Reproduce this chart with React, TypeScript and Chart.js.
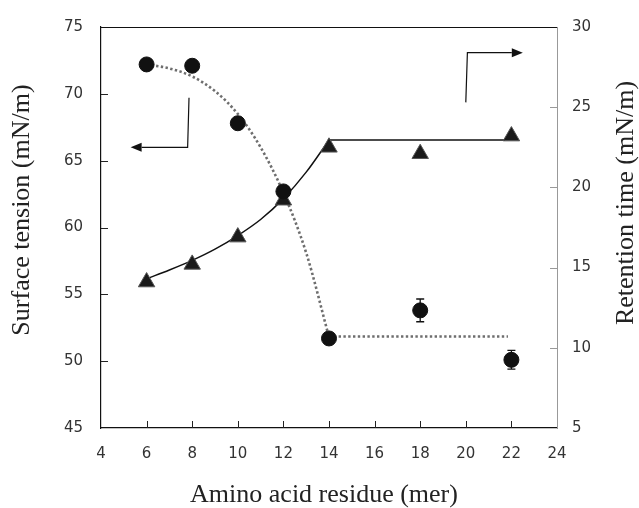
import React, { useEffect, useRef } from 'react';
import { Chart, registerables } from 'chart.js';
Chart.register(...registerables);

// Measured data
const residues = [6, 8, 10, 12, 14, 18, 22];
const surfaceTension = [72.2, 72.1, 67.8, 62.7, 51.7, 53.8, 50.1];
const surfaceTensionErr = [0, 0, 0, 0, 0, 0.85, 0.7];
const retentionTime = [14.1, 15.2, 16.9, 19.2, 22.5, 22.1, 23.2];

// Fitted guide curves
const stFitX = [6, 7, 8, 9, 10, 11, 12, 13, 14];
const stFitY = [72.2, 71.9, 71.3, 70.2, 68.5, 66.0, 62.6, 58.1, 51.8];
const stPlateauX = [14, 21.85];
const stPlateauY = [51.85, 51.85];
const rtFitX = [6, 7, 8, 9, 10, 11, 12, 13, 14];
const rtFitY = [14.3, 14.85, 15.45, 16.15, 17.0, 18.0, 19.3, 20.95, 22.95];
const rtPlateauX = [14, 21.72];
const rtPlateauY = [22.95, 22.95];

// Axis indicator arrows (data coordinates)
const leftArrowX = [7.86, 7.8, 5.3];
const leftArrowY = [69.7, 66.0, 66.0];
const rightArrowX = [20.0, 20.07, 22.5];
const rightArrowY = [25.3, 28.4, 28.4];

const xTitle = 'Amino acid residue (mer)';
const yLeftTitle = 'Surface tension (mN/m)';
const yRightTitle = 'Retention time (mN/m)';

const pts = (xs: number[], ys: number[]) => xs.map((x, i) => ({ x, y: ys[i] }));

const TITLE_FONT = '26px "Liberation Serif", "Times New Roman", serif';

const decorPlugin = {
  id: 'decor',
  afterDatasetsDraw(chart: any) {
    const ctx = chart.ctx;
    const { left, right, top, bottom } = chart.chartArea;
    const xs = chart.scales.x;
    const yl = chart.scales.y;
    const yr = chart.scales.y2;
    ctx.save();
    // top border
    ctx.strokeStyle = '#111';
    ctx.lineWidth = 1.2;
    ctx.beginPath();
    ctx.moveTo(left, top + 0.5);
    ctx.lineTo(right, top + 0.5);
    ctx.stroke();
    // inside ticks
    const tl = 7;
    ctx.lineWidth = 1;
    ctx.strokeStyle = '#222';
    ctx.beginPath();
    xs.ticks.forEach((t: any) => {
      if (t.value <= xs.min || t.value >= xs.max) return;
      const px = Math.round(xs.getPixelForValue(t.value)) + 0.5;
      ctx.moveTo(px, bottom);
      ctx.lineTo(px, bottom - tl);
    });
    yl.ticks.forEach((t: any) => {
      if (t.value <= yl.min || t.value >= yl.max) return;
      const py = Math.round(yl.getPixelForValue(t.value)) + 0.5;
      ctx.moveTo(left, py);
      ctx.lineTo(left + tl, py);
    });
    ctx.stroke();
    ctx.strokeStyle = '#999';
    ctx.beginPath();
    yr.ticks.forEach((t: any) => {
      if (t.value <= yr.min || t.value >= yr.max) return;
      const py = Math.round(yr.getPixelForValue(t.value)) + 0.5;
      ctx.moveTo(right, py);
      ctx.lineTo(right - tl, py);
    });
    ctx.stroke();

    // error bars
    ctx.strokeStyle = '#111';
    ctx.lineWidth = 1.3;
    residues.forEach((r, i) => {
      const e = surfaceTensionErr[i];
      if (!e) return;
      const px = xs.getPixelForValue(r);
      const y1 = yl.getPixelForValue(surfaceTension[i] + e);
      const y2 = yl.getPixelForValue(surfaceTension[i] - e);
      ctx.beginPath();
      ctx.moveTo(px, y1);
      ctx.lineTo(px, y2);
      ctx.moveTo(px - 4, y1);
      ctx.lineTo(px + 4, y1);
      ctx.moveTo(px - 4, y2);
      ctx.lineTo(px + 4, y2);
      ctx.stroke();
    });

    // arrows
    const drawArrow = (axs: number[], ays: number[], ys: any) => {
      const p = axs.map((x, i) => [xs.getPixelForValue(x), ys.getPixelForValue(ays[i])]);
      ctx.strokeStyle = '#111';
      ctx.fillStyle = '#111';
      ctx.lineWidth = 1.2;
      const n = p.length;
      const [ex, ey] = p[n - 1];
      const [sx, sy] = p[n - 2];
      const ang = Math.atan2(ey - sy, ex - sx);
      const hl = 11, hw = 4.5;
      const bx = ex - Math.cos(ang) * hl;
      const by = ey - Math.sin(ang) * hl;
      ctx.beginPath();
      ctx.moveTo(p[0][0], p[0][1]);
      for (let i = 1; i < n - 1; i++) ctx.lineTo(p[i][0], p[i][1]);
      ctx.lineTo(bx, by);
      ctx.stroke();
      ctx.beginPath();
      ctx.moveTo(ex, ey);
      ctx.lineTo(bx - Math.sin(ang) * hw, by + Math.cos(ang) * hw);
      ctx.lineTo(bx + Math.sin(ang) * hw, by - Math.cos(ang) * hw);
      ctx.closePath();
      ctx.fill();
    };
    drawArrow(leftArrowX, leftArrowY, yl);
    drawArrow(rightArrowX, rightArrowY, yr);

    // axis titles
    ctx.fillStyle = '#222';
    ctx.font = TITLE_FONT;
    ctx.textAlign = 'center';
    ctx.textBaseline = 'middle';
    ctx.fillText(xTitle, 324, 495);
    ctx.save();
    ctx.translate(22, 210);
    ctx.rotate(-Math.PI / 2);
    ctx.fillText(yLeftTitle, 0, 0);
    ctx.restore();
    ctx.save();
    ctx.translate(626, 203);
    ctx.rotate(-Math.PI / 2);
    ctx.fillText(yRightTitle, 0, 0);
    ctx.restore();
    ctx.restore();
  },
};

export default function App() {
  const ref = useRef<HTMLCanvasElement | null>(null);
  useEffect(() => {
    if (!ref.current) return;
    const tickFont = { family: '"DejaVu Sans", sans-serif', size: 15 };
    const chart = new Chart(ref.current, {
      type: 'scatter',
      data: {
        datasets: [
          {
            label: 'Surface tension',
            data: pts(residues, surfaceTension),
            yAxisID: 'y',
            pointStyle: 'circle',
            pointRadius: 7.5,
            backgroundColor: '#111',
            borderColor: '#111',
            borderWidth: 1,
            order: 0,
          },
          {
            label: 'Retention time',
            data: pts(residues, retentionTime),
            yAxisID: 'y2',
            pointStyle: 'triangle',
            pointRadius: 9.5,
            backgroundColor: '#1a1a1a',
            borderColor: '#555',
            borderWidth: 1,
            order: 0,
          },
          {
            type: 'line',
            label: 'ST fit',
            data: pts(stFitX, stFitY),
            yAxisID: 'y',
            showLine: true,
            borderColor: '#6e6e6e',
            borderWidth: 2.6,
            borderDash: [2.4, 2.4],
            pointRadius: 0,
            cubicInterpolationMode: 'monotone',
            fill: false,
            order: 2,
          },
          {
            type: 'line',
            label: 'ST plateau',
            data: pts(stPlateauX, stPlateauY),
            yAxisID: 'y',
            showLine: true,
            borderColor: '#6e6e6e',
            borderWidth: 2.6,
            borderDash: [2.4, 2.4],
            pointRadius: 0,
            fill: false,
            order: 2,
          },
          {
            type: 'line',
            label: 'RT fit',
            data: pts(rtFitX, rtFitY),
            yAxisID: 'y2',
            showLine: true,
            borderColor: '#111',
            borderWidth: 1.5,
            pointRadius: 0,
            cubicInterpolationMode: 'monotone',
            fill: false,
            order: 1,
          },
          {
            type: 'line',
            label: 'RT plateau',
            data: pts(rtPlateauX, rtPlateauY),
            yAxisID: 'y2',
            showLine: true,
            borderColor: '#111',
            borderWidth: 1.5,
            pointRadius: 0,
            fill: false,
            order: 1,
          },
        ] as any,
      },
      options: {
        animation: false,
        responsive: true,
        maintainAspectRatio: false,
        layout: { padding: { top: 22, left: 0, right: 0, bottom: 0 } },
        plugins: { legend: { display: false }, tooltip: { enabled: false } },
        scales: {
          x: {
            type: 'linear',
            position: 'bottom',
            min: 4,
            max: 24,
            grid: { display: false, drawTicks: false },
            border: { display: true, color: '#111', width: 1.2 },
            ticks: { stepSize: 2, font: tickFont, color: '#333', padding: 17, maxRotation: 0 },
            afterFit: (s: any) => { s.height = 80; },
          },
          y: {
            type: 'linear',
            position: 'left',
            min: 45,
            max: 75,
            grid: { display: false, drawTicks: false },
            border: { display: true, color: '#111', width: 1.2 },
            ticks: { stepSize: 5, font: tickFont, color: '#333', padding: 18 },
            afterFit: (s: any) => { s.width = 101; },
          },
          y2: {
            type: 'linear',
            position: 'right',
            min: 5,
            max: 30,
            grid: { display: false, drawTicks: false },
            border: { display: true, color: '#999', width: 1 },
            ticks: { stepSize: 5, font: tickFont, color: '#333', padding: 15 },
            afterFit: (s: any) => { s.width = 82; },
          },
        },
      } as any,
      plugins: [decorPlugin],
    });
    return () => chart.destroy();
  }, []);
  return (
    <div style={{ position: 'absolute', left: 0, top: 0, width: 639, height: 508, background: '#fff' }}>
      <canvas ref={ref} />
    </div>
  );
}
